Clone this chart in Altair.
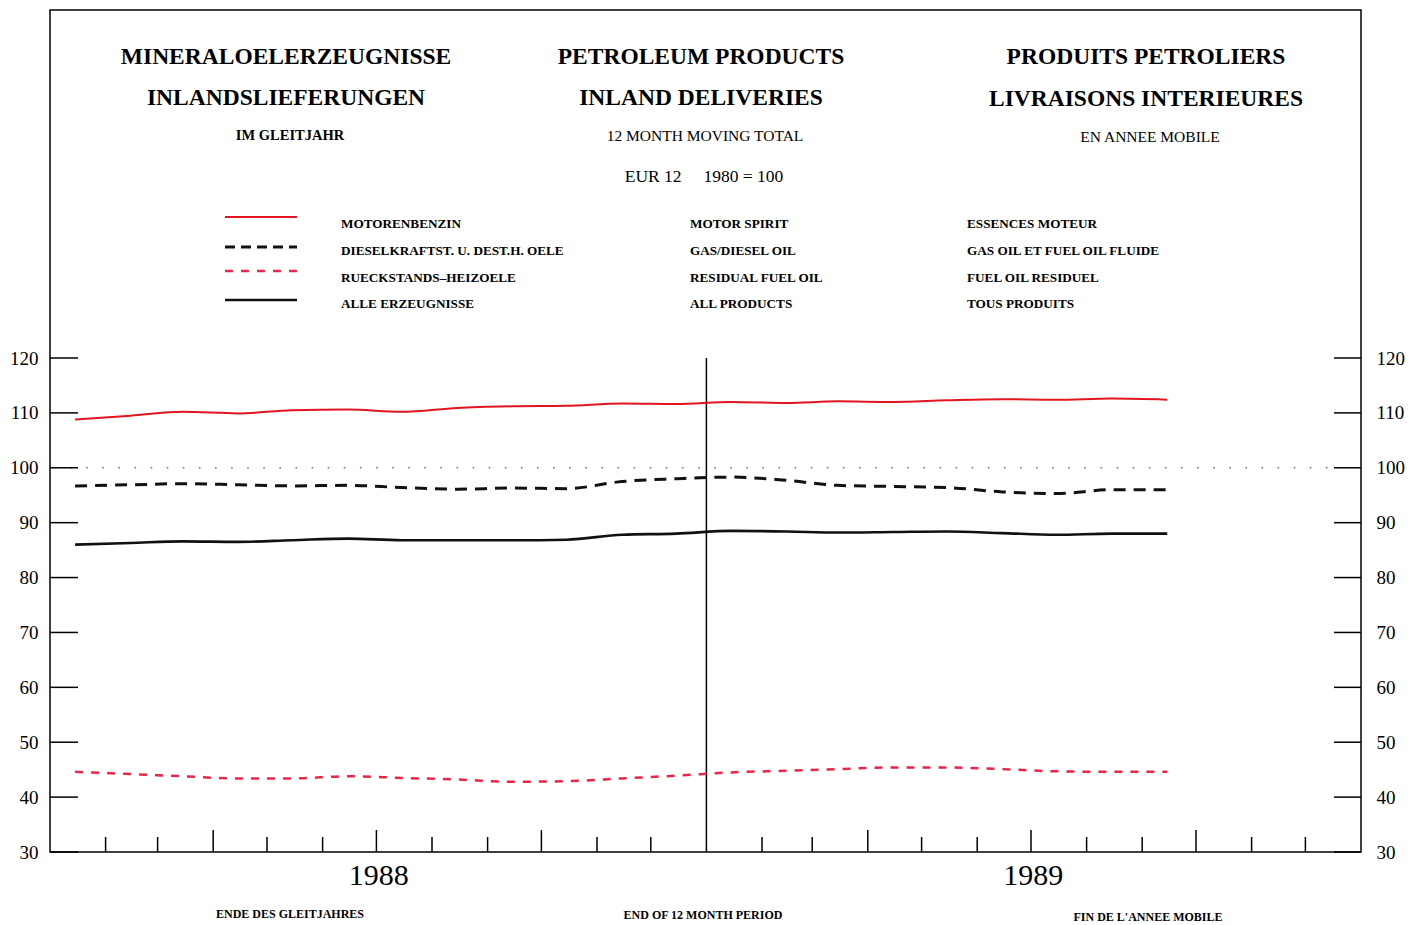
import altair as alt
import pandas as pd

# ---------------- data ----------------
months = ["1988-01", "1988-02", "1988-03", "1988-04", "1988-05", "1988-06", "1988-07",
          "1988-08", "1988-09", "1988-10", "1988-11", "1988-12", "1989-01", "1989-02",
          "1989-03", "1989-04", "1989-05", "1989-06", "1989-07", "1989-08", "1989-09"]
motor_spirit = [108.8, 109.5, 110.2, 109.9, 110.5, 110.6, 110.2, 110.9, 111.2, 111.3, 111.7,
                111.6, 112.0, 111.8, 112.1, 112.0, 112.3, 112.5, 112.4, 112.6, 112.4]
gas_diesel = [96.7, 96.9, 97.1, 96.9, 96.7, 96.8, 96.4, 96.1, 96.3, 96.2, 97.5,
              98.0, 98.3, 97.7, 96.8, 96.6, 96.4, 95.6, 95.3, 96.0, 96.0]
residual = [44.6, 44.2, 43.8, 43.4, 43.4, 43.8, 43.5, 43.2, 42.8, 42.9, 43.4,
            43.9, 44.5, 44.8, 45.1, 45.4, 45.4, 45.1, 44.7, 44.6, 44.6]
all_products = [86.0, 86.3, 86.6, 86.5, 86.8, 87.1, 86.8, 86.8, 86.8, 86.9, 87.8,
                88.0, 88.5, 88.4, 88.2, 88.3, 88.4, 88.1, 87.8, 88.0, 88.0]

y_ticks = [30, 40, 50, 60, 70, 80, 90, 100, 110, 120]
tick_months = ["1988-02", "1988-03", "1988-04", "1988-05", "1988-06", "1988-07", "1988-08",
               "1988-09", "1988-10", "1988-11", "1988-12", "1989-02", "1989-03", "1989-04",
               "1989-05", "1989-06", "1989-07", "1989-08", "1989-09", "1989-10", "1989-11",
               "1989-12"]
quarter_months = ["04", "07", "10"]
year_boundary = "1989-01-01"
reference_level = 100

# ---------------- layout ----------------
W, H = 1311, 842
Y_TOP = 30 + H / (494 / 90)
SERIF = "Liberation Serif"

dates = pd.to_datetime([m + "-15" for m in months])
df = pd.DataFrame({
    "date": list(dates) * 4,
    "value": motor_spirit + gas_diesel + residual + all_products,
    "series": (["motor"] * len(months) + ["diesel"] * len(months)
               + ["residual"] * len(months) + ["all"] * len(months)),
})

xscale = alt.Scale(domain=[alt.DateTime(year=1988, month=1, date=1),
                           alt.DateTime(year=1990, month=1, date=1)])
yscale = alt.Scale(domain=[30, Y_TOP], nice=False, zero=False)


def series_line(name, color, width, dash=None):
    kw = dict(color=color, strokeWidth=width, interpolate="monotone", clip=True)
    if dash:
        kw["strokeDash"] = dash
    return alt.Chart(df).transform_filter(alt.datum.series == name).mark_line(**kw).encode(
        x=alt.X("date:T", scale=xscale, axis=None),
        y=alt.Y("value:Q", scale=yscale, axis=None),
    )


# data lines
line_motor = series_line("motor", "#e3161f", 2)
line_diesel = series_line("diesel", "#111111", 3, [12, 8])
line_resid = series_line("residual", "#e8254a", 2.5, [8, 8])
line_all = series_line("all", "#111111", 2.6)

# reference dotted line at 100
ref_df = pd.DataFrame({"v": [reference_level]})
ref_line = alt.Chart(ref_df).mark_rule(color="#777777", strokeWidth=1.6, strokeDash=[1.6, 14.5]).encode(
    y=alt.Y("v:Q", scale=yscale, axis=None), x=alt.value(4), x2=alt.value(W - 30))

# vertical year boundary line
vb_df = pd.DataFrame({"d": pd.to_datetime([year_boundary]), "y1": [120], "y2": [30]})
v_line = alt.Chart(vb_df).mark_rule(color="black", strokeWidth=1.5).encode(
    x=alt.X("d:T", scale=xscale, axis=None),
    y=alt.Y("y1:Q", scale=yscale, axis=None), y2="y2:Q")

# y ticks (inward) with labels left and right
yt_df = pd.DataFrame({"v": y_ticks})
left_ticks = alt.Chart(yt_df).mark_rule(color="black", strokeWidth=1.5).encode(
    y=alt.Y("v:Q", scale=yscale,
            axis=alt.Axis(orient="left", values=y_ticks, ticks=False, domain=False, grid=False,
                          labelPadding=12, labelFont=SERIF, labelFontSize=19, labelColor="black",
                          title=None)),
    x=alt.value(0), x2=alt.value(28))
right_ticks = alt.Chart(yt_df).mark_rule(color="black", strokeWidth=1.5).encode(
    y=alt.Y("v:Q", scale=yscale,
            axis=alt.Axis(orient="right", values=y_ticks, ticks=False, domain=False, grid=False,
                          labelPadding=15, labelFont=SERIF, labelFontSize=19, labelColor="black",
                          title=None)),
    x=alt.value(W - 27), x2=alt.value(W))

# x ticks (inward), longer at quarter starts, year labels via axis
tk_df = pd.DataFrame({"d": pd.to_datetime([m + "-01" for m in tick_months]),
                      "q": [m[-2:] in quarter_months for m in tick_months]})
short_ticks = alt.Chart(tk_df).transform_filter("!datum.q").mark_rule(color="black", strokeWidth=1.5).encode(
    x=alt.X("d:T", scale=xscale,
            axis=alt.Axis(values=[alt.DateTime(year=1988, month=7, date=2),
                                  alt.DateTime(year=1989, month=7, date=2)],
                          format="%Y", ticks=False, domain=False, grid=False, labelPadding=8,
                          labelFont=SERIF, labelFontSize=30, labelColor="black", title=None)),
    y=alt.value(H), y2=alt.value(H - 15))
tall_ticks = alt.Chart(tk_df).transform_filter("datum.q").mark_rule(color="black", strokeWidth=1.5).encode(
    x=alt.X("d:T", scale=xscale, axis=None),
    y=alt.value(H), y2=alt.value(H - 22))


def label(text, px, py, size, weight="normal", align="center", font=SERIF):
    return alt.Chart(pd.DataFrame({"t": [text]})).mark_text(
        align=align, baseline="middle", font=font, fontSize=size, fontWeight=weight,
        color="black").encode(x=alt.value(px - 50), y=alt.value(py - 10), text="t:N")


texts = [
    label("MINERALOELERZEUGNISSE", 286, 57, 23.5, "bold"),
    label("INLANDSLIEFERUNGEN", 286, 98, 23.5, "bold"),
    label("IM GLEITJAHR", 290, 136, 14.5, "bold"),
    label("PETROLEUM PRODUCTS", 701, 57, 23.5, "bold"),
    label("INLAND DELIVERIES", 701, 98, 23.5, "bold"),
    label("12 MONTH MOVING TOTAL", 705, 136, 15.5),
    label("EUR 12\u00a0\u00a0\u00a0\u00a0 1980 = 100", 704, 177, 17.5),
    label("PRODUITS PETROLIERS", 1146, 57, 23.5, "bold"),
    label("LIVRAISONS INTERIEURES", 1146, 99, 23.5, "bold"),
    label("EN ANNEE MOBILE", 1150, 137, 15.5),
    label("ENDE DES GLEITJAHRES", 290, 914, 12, "bold"),
    label("END OF 12 MONTH PERIOD", 703, 915, 12, "bold"),
    label("FIN DE L'ANNEE MOBILE", 1148, 917, 12, "bold"),
]

legend_de = ["MOTORENBENZIN", "DIESELKRAFTST. U. DEST.H. OELE", "RUECKSTANDS\u2013HEIZOELE", "ALLE ERZEUGNISSE"]
legend_en = ["MOTOR SPIRIT", "GAS/DIESEL OIL", "RESIDUAL FUEL OIL", "ALL PRODUCTS"]
legend_fr = ["ESSENCES MOTEUR", "GAS OIL ET FUEL OIL FLUIDE", "FUEL OIL RESIDUEL", "TOUS PRODUITS"]
row_y = [224, 251, 278, 304]
for col_x, labels in [(341, legend_de), (690, legend_en), (967, legend_fr)]:
    for ry, t in zip(row_y, labels):
        texts.append(label(t, col_x, ry, 13.2, "bold", align="left"))

swatch_styles = [("#e3161f", 2, None), ("#111111", 3, [10, 6]), ("#e8254a", 2.5, [8, 8]), ("#111111", 2.6, None)]
swatch_y = [217, 247, 271, 300]
swatches = []
for (c, w, dash), sy in zip(swatch_styles, swatch_y):
    kw = dict(color=c, strokeWidth=w)
    if dash:
        kw["strokeDash"] = dash
    swatches.append(alt.Chart(pd.DataFrame({"a": [0]})).mark_rule(**kw).encode(
        x=alt.value(225 - 50), x2=alt.value(297 - 50), y=alt.value(sy - 10)))

chart = alt.layer(
    ref_line, v_line, left_ticks, right_ticks, short_ticks, tall_ticks,
    line_resid, line_all, line_diesel, line_motor,
    *swatches, *texts,
).resolve_axis(y="independent", x="independent").properties(
    width=W, height=H,
    padding={"left": 42, "top": 2, "right": 55, "bottom": 72},
    autosize=alt.AutoSizeParams(type="none"),
    background="white",
).configure_view(stroke="black", strokeWidth=1.5)

chart.save("out.html", embed_options={"renderer": "svg", "actions": False})
